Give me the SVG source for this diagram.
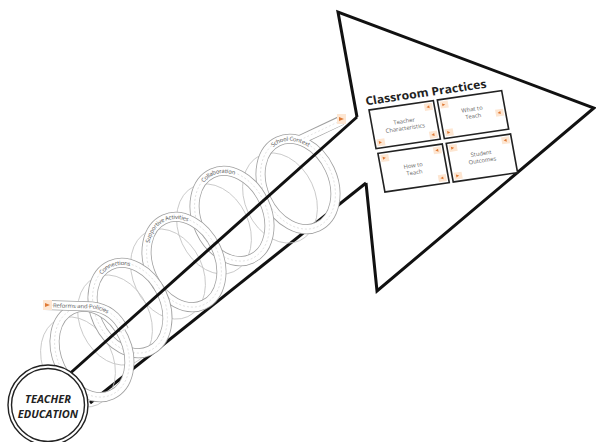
<svg xmlns="http://www.w3.org/2000/svg" width="596" height="442" viewBox="0 0 596 442">
<defs>
<style>
.shaft{stroke:#111;stroke-width:3;fill:none;stroke-linecap:butt}
.rib-o{fill:none;stroke:#a0a0a0;stroke-width:10}
.rib-i{fill:none;stroke:#fff;stroke-width:8.4}
.rib-d{fill:none;stroke:#cacaca;stroke-width:0.5;stroke-dasharray:2 2}
.back{fill:none;stroke:#c4c4c4;stroke-width:0.8}
.lbl{font-family:"Open Sans","Liberation Sans",sans-serif;font-size:5.8px;fill:#555}
.box{fill:#fff;stroke:#222;stroke-width:1.6}
.btxt{font-family:"Open Sans","Liberation Sans",sans-serif;font-size:5.8px;fill:#666;text-anchor:middle}
.tagb{fill:#fde6d2}
.tagt{fill:#e07a35}
</style>
<path id="arc" d="M-35,0 A35,47 0 0 1 35,0"/>
<path id="refp" d="M53,305.5 L92,306.5 Q114,309 124,330"/>
</defs>

<g id="arrowhead">
<polyline points="357,117 338,12 594,108 377,291 366,183" fill="#fff" stroke="#111" stroke-width="3"/>
</g>

<g id="connectors">
<line class="shaft" x1="90" y1="403" x2="366" y2="183"/>
</g>

<g id="coil-back">
<ellipse class="back" cx="78" cy="362" rx="35" ry="47" transform="rotate(-25 78 362)"/>
<ellipse class="back" cx="115" cy="320" rx="35" ry="47" transform="rotate(-25 115 320)"/>
<ellipse class="back" cx="168" cy="274" rx="35" ry="47" transform="rotate(-25 168 274)"/>
<ellipse class="back" cx="214" cy="229" rx="35" ry="47" transform="rotate(-25 214 229)"/>
<ellipse class="back" cx="280" cy="198" rx="35" ry="47" transform="rotate(-25 280 198)"/>
</g>

<g id="loop-school">
<path class="rib-o" d="M300,140 L342,120"/>
<g transform="translate(298,184) rotate(-25)">
<ellipse class="rib-o" rx="35" ry="47"/><ellipse class="rib-i" rx="35" ry="47"/><ellipse class="rib-d" rx="35" ry="47"/>
</g>
<path class="rib-i" d="M300,140 L343,120"/>
<path class="rib-d" d="M300,140 L338,122"/>
<rect class="tagb" x="337" y="114" width="9" height="10"/>
<path class="tagt" d="M339,117 L344,119 L339,121 Z"/>
<g transform="translate(298,184) rotate(-25)">
<text class="lbl" dy="2"><textPath href="#arc" startOffset="44%">School Context</textPath></text>
</g>
</g>

<g id="loop-collaboration">
<g transform="translate(232,216) rotate(-25)">
<ellipse class="rib-o" rx="35" ry="47"/><ellipse class="rib-i" rx="35" ry="47"/><ellipse class="rib-d" rx="35" ry="47"/>
<text class="lbl" dy="2"><textPath href="#arc" startOffset="40%">Collaboration</textPath></text>
</g>
</g>

<g id="loop-supportive">
<g transform="translate(184,262) rotate(-25)">
<ellipse class="rib-o" rx="35" ry="47"/><ellipse class="rib-i" rx="35" ry="47"/><ellipse class="rib-d" rx="35" ry="47"/>
<text class="lbl" dy="2"><textPath href="#arc" startOffset="27%">Supportive Activities</textPath></text>
</g>
</g>

<g id="loop-connections">
<g transform="translate(130,308) rotate(-25)">
<ellipse class="rib-o" rx="35" ry="47"/><ellipse class="rib-i" rx="35" ry="47"/><ellipse class="rib-d" rx="35" ry="47"/>
<text class="lbl" dy="2"><textPath href="#arc" startOffset="40%">Connections</textPath></text>
</g>
</g>

<g id="loop-reforms">
<g transform="translate(92,352) rotate(-25)">
<ellipse class="rib-o" rx="35" ry="47"/><ellipse class="rib-i" rx="35" ry="47"/><ellipse class="rib-d" rx="35" ry="47"/>
</g>
<path class="rib-o" d="M45,305 L92,306.5 Q114,309 124,330"/>
<path class="rib-i" d="M44,305 L92,306.5 Q114,309 124,330"/>
<path class="rib-d" d="M52,305.2 L92,306.5 Q114,309 124,330"/>
<rect class="tagb" x="43" y="300" width="9" height="10"/>
<path class="tagt" d="M45,303 L50,305 L45,307 Z"/>
<text class="lbl" dy="2"><textPath href="#refp">Reforms and Policies</textPath></text>
</g>

<g id="shaft-front">
<line class="shaft" x1="66" y1="377" x2="357" y2="117"/>
</g>

<g id="teacher-education">
<circle cx="48" cy="405" r="40" fill="#fff" stroke="#222" stroke-width="1.4"/>
<circle cx="48" cy="405" r="36.5" fill="none" stroke="#222" stroke-width="1.4"/>
<text x="48" y="403" font-family="Open Sans, Liberation Sans, sans-serif" font-size="11" font-weight="bold" font-style="italic" fill="#222" text-anchor="middle">TEACHER</text>
<text x="48" y="418" font-family="Open Sans, Liberation Sans, sans-serif" font-size="11" font-weight="bold" font-style="italic" fill="#222" text-anchor="middle">EDUCATION</text>
</g>

<g id="classroom-practices" transform="matrix(0.99,-0.145,0.18,0.99,369,110)">
<text x="-2" y="-5" font-family="Open Sans, Liberation Sans, sans-serif" font-size="11.5" font-weight="bold" fill="#222" textLength="122" lengthAdjust="spacingAndGlyphs">Classroom Practices</text>
<g id="box-teacher">
<rect class="box" x="0" y="0" width="65" height="39"/>
<rect class="tagb" x="55" y="2" width="8" height="7"/><path class="tagt" d="M60,4 L57,5.5 L60,7 Z"/>
<rect class="tagb" x="2" y="30" width="8" height="7"/><path class="tagt" d="M4,32 L7,33.5 L4,35 Z"/>
<rect class="tagb" x="55" y="30" width="8" height="7"/><path class="tagt" d="M60,32 L57,33.5 L60,35 Z"/>
<text class="btxt" x="32.5" y="18">Teacher</text><text class="btxt" x="32.5" y="25">Characteristics</text>
</g>
<g id="box-what">
<rect class="box" x="69" y="0" width="65" height="39"/>
<rect class="tagb" x="71" y="2" width="8" height="7"/><path class="tagt" d="M73,4 L76,5.5 L73,7 Z"/>
<rect class="tagb" x="71" y="30" width="8" height="7"/><path class="tagt" d="M73,32 L76,33.5 L73,35 Z"/>
<rect class="tagb" x="124" y="18" width="8" height="7"/><path class="tagt" d="M129,20 L126,21.5 L129,23 Z"/>
<text class="btxt" x="101.5" y="16">What to</text><text class="btxt" x="101.5" y="23">Teach</text>
</g>
<g id="box-how">
<rect class="box" x="1" y="44" width="65" height="39"/>
<rect class="tagb" x="3" y="46" width="8" height="7"/><path class="tagt" d="M5,48 L8,49.5 L5,51 Z"/>
<rect class="tagb" x="56" y="46" width="8" height="7"/><path class="tagt" d="M61,48 L58,49.5 L61,51 Z"/>
<rect class="tagb" x="56" y="74" width="8" height="7"/><path class="tagt" d="M61,76 L58,77.5 L61,79 Z"/>
<text class="btxt" x="33.5" y="63">How to</text><text class="btxt" x="33.5" y="70">Teach</text>
</g>
<g id="box-student">
<rect class="box" x="70" y="44" width="65" height="39"/>
<rect class="tagb" x="72" y="46" width="8" height="7"/><path class="tagt" d="M74,48 L77,49.5 L74,51 Z"/>
<rect class="tagb" x="125" y="46" width="8" height="7"/><path class="tagt" d="M130,48 L127,49.5 L130,51 Z"/>
<rect class="tagb" x="72" y="74" width="8" height="7"/><path class="tagt" d="M74,76 L77,77.5 L74,79 Z"/>
<text class="btxt" x="102.5" y="61">Student</text><text class="btxt" x="102.5" y="68">Outcomes</text>
</g>
</g>
</svg>
